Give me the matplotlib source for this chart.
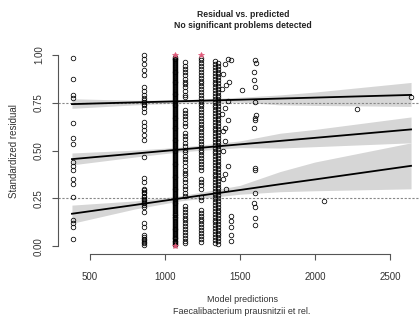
import matplotlib
matplotlib.use("Agg")
import matplotlib.pyplot as plt
import numpy as np

plt.rcParams["font.family"] = ["Liberation Sans", "DejaVu Sans"]

# scaled residuals grouped by predicted value (one column per prediction level)
pred_a = 385
res_a = [0.985, 0.875, 0.79, 0.775, 0.645, 0.565, 0.535, 0.44, 0.42, 0.40,
         0.35, 0.325, 0.257, 0.136, 0.12, 0.10, 0.04]

pred_b = 860
res_b = [1.0, 0.975, 0.95, 0.92, 0.895, 0.83, 0.81, 0.79, 0.775, 0.765, 0.755,
         0.745, 0.735, 0.72, 0.70, 0.65, 0.63, 0.607, 0.58, 0.555, 0.466, 0.356,
         0.335, 0.30, 0.293, 0.285, 0.277, 0.265, 0.257, 0.248, 0.24, 0.232,
         0.225, 0.215, 0.204, 0.178, 0.12, 0.10, 0.058, 0.047, 0.038, 0.031,
         0.023, 0.016, 0.005]

pred_c = 1070
res_c = [0.012, 0.021, 0.03, 0.041, 0.05, 0.058, 0.069, 0.08, 0.088, 0.097,
         0.108, 0.118, 0.127, 0.136, 0.147, 0.155, 0.166, 0.175, 0.186, 0.195,
         0.204, 0.214, 0.224, 0.233, 0.243, 0.252, 0.262, 0.273, 0.281, 0.292,
         0.301, 0.312, 0.321, 0.33, 0.341, 0.35, 0.36, 0.369, 0.379, 0.389,
         0.398, 0.408, 0.418, 0.427, 0.437, 0.446, 0.457, 0.466, 0.476, 0.485,
         0.495, 0.505, 0.514, 0.524, 0.533, 0.543, 0.553, 0.562, 0.572, 0.581,
         0.591, 0.601, 0.61, 0.62, 0.629, 0.639, 0.648, 0.658, 0.668, 0.677,
         0.687, 0.696, 0.706, 0.716, 0.725, 0.735, 0.745, 0.754, 0.764, 0.773,
         0.783, 0.793, 0.802, 0.812, 0.821, 0.831, 0.841, 0.85, 0.86, 0.869,
         0.879, 0.889, 0.898, 0.908, 0.917, 0.927, 0.937, 0.946, 0.956, 0.965,
         0.975, 0.985]
res_c2 = [0.006, 0.017, 0.026, 0.036, 0.046, 0.054, 0.064, 0.075, 0.084, 0.093,
          0.103, 0.113, 0.122, 0.132, 0.141, 0.151, 0.161, 0.171, 0.181, 0.19,
          0.2, 0.209, 0.219, 0.228, 0.238, 0.248, 0.257, 0.267, 0.277, 0.287,
          0.297, 0.306, 0.316, 0.326, 0.336, 0.345, 0.355, 0.364, 0.374, 0.384,
          0.393, 0.403, 0.413, 0.422, 0.432, 0.442, 0.451, 0.461, 0.471, 0.48,
          0.49, 0.5, 0.51, 0.519, 0.528, 0.538, 0.548, 0.557, 0.567, 0.577,
          0.586, 0.596, 0.605, 0.615, 0.624, 0.634, 0.644, 0.653, 0.663, 0.672,
          0.682, 0.692, 0.701, 0.711, 0.72, 0.73, 0.74, 0.75, 0.759, 0.768,
          0.778, 0.788, 0.797, 0.807, 0.816, 0.826, 0.836, 0.845, 0.855, 0.864,
          0.874, 0.884, 0.893, 0.903, 0.912, 0.922, 0.932, 0.941, 0.951, 0.96,
          0.97, 0.98, 0.99]

pred_d = 1133
res_d = [0.96, 0.94, 0.925, 0.91, 0.895, 0.875, 0.86, 0.845, 0.83, 0.81, 0.79,
         0.78, 0.71, 0.695, 0.68, 0.665, 0.645, 0.63, 0.59, 0.575, 0.56, 0.54,
         0.525, 0.505, 0.49, 0.47, 0.455, 0.44, 0.42, 0.40, 0.385, 0.37, 0.35,
         0.335, 0.315, 0.30, 0.28, 0.265, 0.21, 0.195, 0.18, 0.165, 0.15, 0.135,
         0.12, 0.105, 0.09, 0.075, 0.06, 0.045, 0.03, 0.015]

pred_e = 1240
res_e = [0.985, 0.97, 0.955, 0.94, 0.925, 0.91, 0.895, 0.88, 0.865, 0.85,
         0.835, 0.82, 0.805, 0.79, 0.775, 0.76, 0.745, 0.73, 0.715, 0.70, 0.685,
         0.67, 0.655, 0.64, 0.625, 0.61, 0.595, 0.58, 0.565, 0.55, 0.535, 0.52,
         0.505, 0.49, 0.475, 0.46, 0.445, 0.43, 0.415, 0.40, 0.35, 0.335, 0.32,
         0.30, 0.255, 0.24, 0.19, 0.175, 0.16, 0.145, 0.13, 0.115, 0.10, 0.085,
         0.07, 0.055, 0.04, 0.025]

pred_f1 = 1335
res_f1 = [0.965, 0.95, 0.935, 0.92, 0.905, 0.89, 0.875, 0.86, 0.845, 0.83,
          0.815, 0.80, 0.785, 0.77, 0.755, 0.74, 0.725, 0.71, 0.695, 0.68,
          0.665, 0.65, 0.635, 0.62, 0.605, 0.59, 0.575, 0.56, 0.545, 0.53,
          0.515, 0.50, 0.485, 0.47, 0.455, 0.44, 0.425, 0.41, 0.395, 0.38,
          0.365, 0.35, 0.335, 0.32, 0.305, 0.29, 0.275, 0.26, 0.245, 0.23,
          0.215, 0.20, 0.185, 0.17, 0.155, 0.14, 0.125, 0.11, 0.095, 0.08,
          0.065, 0.05, 0.035, 0.02]

pred_f2 = 1352
res_f2 = [0.957, 0.942, 0.927, 0.912, 0.897, 0.882, 0.867, 0.852, 0.837,
          0.822, 0.807, 0.792, 0.777, 0.762, 0.747, 0.732, 0.717, 0.702, 0.687,
          0.672, 0.657, 0.642, 0.627, 0.612, 0.597, 0.582, 0.567, 0.552, 0.537,
          0.522, 0.507, 0.492, 0.477, 0.462, 0.447, 0.432, 0.417, 0.402, 0.387,
          0.372, 0.357, 0.342, 0.327, 0.312, 0.297, 0.282, 0.267, 0.252, 0.237,
          0.222, 0.207, 0.192, 0.177, 0.162, 0.147, 0.132, 0.117, 0.102, 0.087,
          0.072, 0.057, 0.042, 0.027, 0.012]

# scattered residuals around 1400-1450 and beyond
pred_scatter = [1420, 1440, 1400, 1390, 1430, 1410, 1380, 1420, 1400, 1380,
                1420, 1400, 1385, 1420, 1400, 1390, 1410, 1440, 1440, 1440,
                1440, 1440, 1400, 1385,
                1513, 1600, 1605, 1590, 1595, 1600, 1600, 1605, 1598, 1600,
                1595, 1600, 1602, 1598, 1595, 1600, 1598, 1600, 2060, 2278,
                2640]
res_scatter = [0.98, 0.97, 0.95, 0.90, 0.86, 0.84, 0.82, 0.76, 0.72, 0.69,
               0.66, 0.62, 0.60, 0.42, 0.38, 0.35, 0.30, 0.16, 0.13, 0.10,
               0.06, 0.03, 0.55, 0.50,
               0.817, 0.974, 0.958, 0.91, 0.87, 0.83, 0.755, 0.686, 0.67, 0.66,
               0.62, 0.408, 0.40, 0.277, 0.225, 0.204, 0.147, 0.11, 0.235, 0.717,
               0.78]

# outliers (simulation envelope exceeded)
pred_out = [1070, 1070, 1240]
res_out = [1.0, 0.0, 1.0]

# fitted quantile regressions and their uncertainty bands
band_x = [380, 800, 1100, 1500, 1767, 2000, 2640]
q75_line = [0.742, 0.751, 0.757, 0.765, 0.771, 0.776, 0.79]
q75_lo = [0.72, 0.738, 0.748, 0.752, 0.738, 0.735, 0.73]
q75_hi = [0.77, 0.762, 0.764, 0.778, 0.79, 0.805, 0.855]
q50_line = [0.455, 0.484, 0.505, 0.532, 0.55, 0.566, 0.61]
q50_lo = [0.425, 0.466, 0.493, 0.515, 0.513, 0.52, 0.54]
q50_hi = [0.487, 0.502, 0.517, 0.55, 0.59, 0.61, 0.675]
q25_line = [0.17, 0.216, 0.25, 0.294, 0.324, 0.349, 0.42]
q25_lo = [0.12, 0.195, 0.237, 0.272, 0.285, 0.29, 0.30]
q25_hi = [0.215, 0.237, 0.263, 0.318, 0.39, 0.44, 0.54]

fig = plt.figure(figsize=(4.19, 3.24), dpi=100)
ax = fig.add_axes([58 / 419, 70 / 324, 361 / 419, 207 / 324])

for lo, hi in [(q75_lo, q75_hi), (q50_lo, q50_hi), (q25_lo, q25_hi)]:
    ax.fill_between(band_x, lo, hi, color="#d6d6d6", lw=0, zorder=1)

for h in (0.25, 0.75):
    ax.axhline(h, color="#888888", lw=0.8, ls=(0, (2, 1.5)), zorder=2)

pt = dict(ls="none", marker="o", ms=3.3, mfc="none", mec="black", mew=0.55, zorder=3)
for x, ys in [(pred_a, res_a), (pred_b, res_b), (pred_c, res_c), (pred_c, res_c2),
              (pred_d, res_d), (pred_e, res_e), (pred_f1, res_f1),
              (pred_f2, res_f2)]:
    ax.plot(np.full(len(ys), x), ys, **pt)
ax.plot(pred_scatter, res_scatter, **pt)
ax.plot(pred_out, res_out, ls="none", marker="*", ms=4, color="#e05a7a",
        mew=0.5, zorder=4)

for line in (q75_line, q50_line, q25_line):
    ax.plot(band_x, line, color="black", lw=1.3, zorder=5)

ax.set_xlim(287, 2693)
ax.set_ylim(-0.04, 1.04)
for s in ("top", "right"):
    ax.spines[s].set_visible(False)
ax.spines["left"].set_bounds(0, 1)
ax.spines["bottom"].set_bounds(500, 2500)
for s in ("left", "bottom"):
    ax.spines[s].set_color("#555555")
    ax.spines[s].set_linewidth(0.8)

ax.set_xticks([500, 1000, 1500, 2000, 2500])
ax.set_yticks([0, 0.25, 0.5, 0.75, 1.0])
ax.set_yticklabels(["0.00", "0.25", "0.50", "0.75", "1.00"], rotation=90,
                   va="center")
ax.tick_params(length=4, width=0.8, color="#555555", labelsize=7,
               labelcolor="#333333", pad=6)
ax.tick_params(axis="x", pad=9)

fig.text(0.58, 0.955, "Residual vs. predicted", ha="center", va="center",
         fontsize=6.2, fontweight="bold", color="#222222")
fig.text(0.58, 0.92, "No significant problems detected", ha="center",
         va="center", fontsize=6.2, fontweight="bold", color="#222222")
fig.text(0.578, 0.077, "Model predictions", ha="center", va="center",
         fontsize=6.5, color="#333333")
fig.text(0.578, 0.04, "Faecalibacterium prausnitzii et rel.", ha="center",
         va="center", fontsize=6.5, color="#333333")
fig.text(0.034, 0.535, "Standardized residual", ha="center", va="center",
         rotation=90, fontsize=7, color="#333333")

fig.savefig("out.png", dpi=100)
